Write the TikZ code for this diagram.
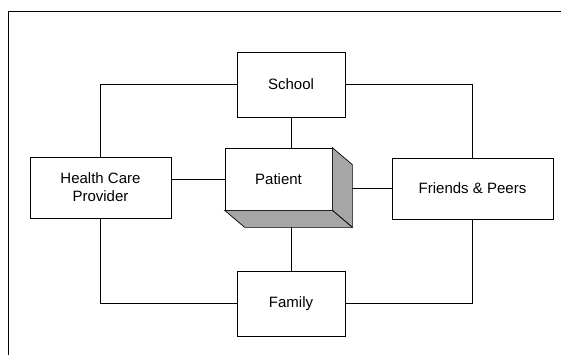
\documentclass[tikz,border=0pt]{standalone}
\usepackage{fontspec}
\setmainfont{Liberation Sans}
\usetikzlibrary{calc}

\tikzset{
    box/.style={draw, rectangle, line width=0.7pt, inner sep=0pt, align=center,
        font=\fontsize{15}{18}\selectfont},
    link/.style={line width=0.7pt},
    shade3d/.style={draw, line width=0.7pt, fill=black!35}
}

\begin{document}
\begin{tikzpicture}[x=1pt,y=-1pt]
        \useasboundingbox (0,0) rectangle (561,354);

        % Draw frame
        \draw [line width=0.8pt] (8,360) -- (8,11) -- (570,11);

        % Boxes
        \node[box, minimum width=108, minimum height=65] (school) at (291,84.5) {School};
        \node[box, minimum width=108, minimum height=65] (family) at (291,303.5) {Family};
        \node[box, minimum width=141, minimum height=61] (health) at (100.5,187.5) {Health Care\\Provider};
        \node[box, minimum width=161, minimum height=61] (friends) at (472.5,188.5) {Friends \& Peers};
        \node[box, minimum width=107, minimum height=62] (patient) at (278.5,179) {Patient};

        % 3D sides of the patient box
        \coordinate (p_ne) at ($(patient.north east)+(20,17)$);
        \coordinate (p_se) at ($(patient.south east)+(20,17)$);
        \coordinate (p_sw) at ($(patient.south west)+(20,17)$);
        \draw[shade3d] (patient.north east) -- (p_ne) -- (p_se) -- (patient.south east) -- cycle;
        \draw[shade3d] (patient.south west) -- (p_sw) -- (p_se) -- (patient.south east) -- cycle;

        % Connectors
        \draw[link] (school.west) -| (health.north);
        \draw[link] (school.east) -| (friends.north);
        \draw[link] (family.west) -| (health.south);
        \draw[link] (family.east) -| (friends.south);
        \draw[link] (school.south) -- (school.south |- patient.north);
        \draw[link] (family.north) -- (family.north |- p_se);
        \draw[link] (patient.west) -- (patient.west -| health.east);
        \draw[link] (friends.west) -- (friends.west -| p_se);
    \end{tikzpicture}
\end{document}
